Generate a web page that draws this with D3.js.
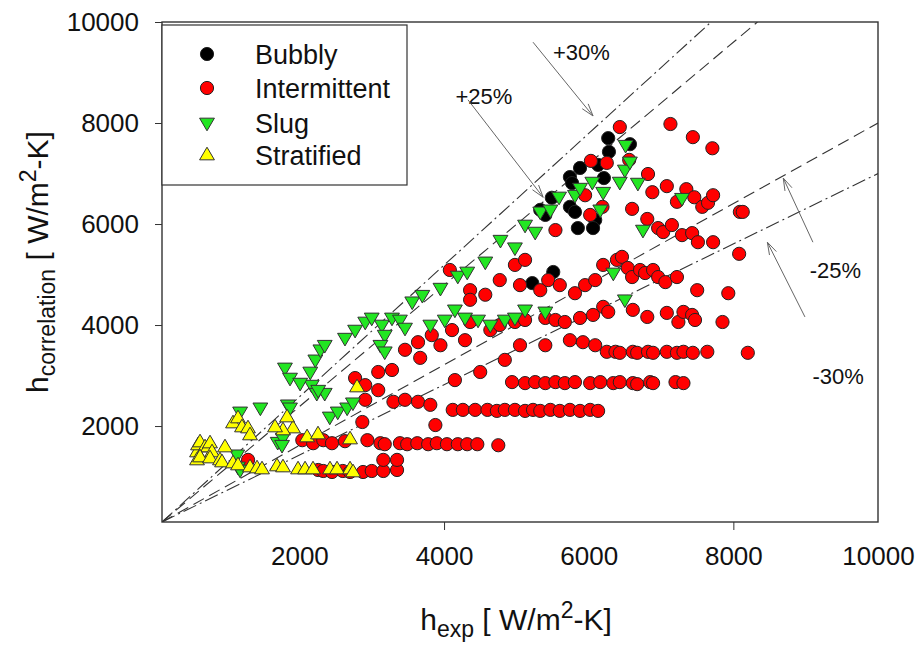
<!DOCTYPE html>
<html>
<head>
<meta charset="utf-8">
<script src="https://cdn.jsdelivr.net/npm/d3@7"></script>
<style>
  body { margin: 0; background: #fff; }
  svg { display: block; }
  text { font-family: Arial, "Liberation Sans", sans-serif; fill: #111; }
</style>
</head>
<body>
<svg id="chart" width="917" height="645"></svg>
<script>
// Heat transfer coefficient: correlation vs. experiment, by flow regime  [h_exp, h_correlation]
const bubbly = [
  [6270,7700],[6280,7430],[6570,7580],[6130,7170],[6210,6910],[5880,7110],[5740,6930],[5770,6810],
  [5490,6520],[5330,6280],[5400,6180],[5740,6340],[5810,6240],[5850,5920],[6090,6080],[6060,5920],
  [5510,5050],[5220,4830]
];
const intermittent = [
  [2260,1130],[2330,1110],[2450,1090],[2600,1110],[2700,1090],[2880,1090],[3000,1110],[3160,1110],[3350,1130],[3160,1330],[3350,1330],[1290,1330],
  [2040,1720],[2190,1660],[2330,1720],[2450,1660],[2630,1700],[2940,1720],[3120,1660],[3180,1640],[3390,1660],[3490,1640],[3630,1660],[3780,1640],[3900,1660],[4040,1640],[4190,1640],[4320,1640],[4460,1640],[4750,1620],[2870,2080],[3880,2020],
  [2910,2520],[3090,2710],[3300,2480],[3460,2520],[3640,2480],[3810,2420],
  [4120,2320],[4260,2320],[4430,2320],[4600,2320],[4730,2300],[4840,2320],[4980,2320],[5120,2300],[5230,2320],[5330,2300],[5470,2320],[5600,2300],[5740,2320],[5880,2300],[6020,2320],[6130,2300],
  [4940,2870],[5120,2850],[5260,2870],[5400,2850],[5540,2870],[5670,2850],[5810,2870],[6020,2850],[6160,2870],[6340,2850],[6430,2870],[6610,2850],[6670,2830],[6850,2870],[6890,2850],[7200,2870],[7310,2850],
  [6250,3470],[6370,3470],[6430,3450],[6610,3470],[6670,3450],[6820,3470],[6890,3450],[7080,3470],[7220,3450],[7310,3470],[7440,3450],[7640,3470],[8200,3450],[5740,3700],[5920,3660],[6090,3600],
  [6200,4360],[6270,4260],[6610,4300],[6810,4160],[7080,4240],[7240,4060],[7310,4260],[7430,4200],[7470,4100],[7850,4060],[7500,4690],[7930,4630],[4360,4060],[4640,3900],[4770,4000],[4980,4060],[5120,4100],[5400,4140],[5540,4100],[5670,4060],[5880,4140],[6060,4200],
  [6200,5190],[6390,5290],[6460,5350],[6540,5130],[6600,4950],[6710,5090],[6780,5030],[6890,5090],[6960,4950],[7060,4850],[7220,4950],[8080,5410],[4360,4690],[4570,4600],[4770,4890],[5050,4790],[5330,4690],[5440,4890],[5600,4790],[5810,4630],[5950,4790],[6090,4890],
  [6810,6100],[6960,5920],[7030,5840],[7150,5980],[7290,5780],[7430,5820],[7510,5640],[7720,5640],[8090,6240],[8130,6240],[5540,5880],[6020,6180],
  [5950,6570],[6190,6340],[6600,6300],[6880,6630],[7080,6750],[7220,6440],[7350,6690],[7460,6530],[7570,6340],[7650,6420],[7720,6570],
  [6430,7920],[7130,7980],[7440,7720],[7710,7500],[6030,7250],[6250,7210],[6560,7270],[6820,6990],
  [2770,2950],[2910,2810],[3090,3070],[3280,3110],[3460,3510],[3640,3660],[3670,3350],[3830,3800],[3950,3600],[4110,3900],[4290,3700],[4150,2910],[4500,3070],[4840,3310],[5050,3600],[5400,3600],[4080,5090],[4360,4500],[4980,5190],[5120,5290]
];
const slug = [
  [1140,1430],[1150,1190],[1180,1130],[1700,1680],[1770,1760],[1760,1620],
  [1180,2280],[1460,2360],[1840,2420],[1870,2360],
  [2420,2180],[2530,2280],[2660,2360],[2740,2460],
  [2170,2810],[2240,2650],[2350,2650],[2260,2710],
  [1800,3150],[1870,2950],[2010,2850],[2150,3070],[2220,3310],[2290,3510],[2350,3600],
  [2630,3740],[2770,3900],[2910,4060],[3000,4140],[3140,4000],[3180,3800],[3280,4140],[3390,4100],[3460,3940],[3120,3600],[3180,3470],
  [3560,4460],[3700,4590],[3950,4730],[4190,4970],[4320,5050],[4570,5250],
  [3810,4000],[4010,4100],[4150,4300],[4290,4140],[4470,4100],[4640,4000],[4840,4100],[4980,4140],[5120,4300],
  [4780,5680],[4980,5530],[5120,5980],[5260,5840],[5330,6240],[5470,6280],[5590,6535],[5810,6570],[5880,6710],
  [6160,6280],[6200,6630],[6430,6830],[6500,7070],[6570,7230],[6510,7560],[6050,6830],[6680,6810],[7290,6510],
  [5400,4260],[6500,4500],[6750,5880],[6340,5030]
];
const stratified = [
  [584,1486],[598,1625],[626,1684],[695,1585],[736,1585],[764,1664],[792,1486],[584,1328],[626,1387],[764,1367],
  [902,1328],[930,1288],[971,1585],[1082,1268],[1151,1229],[1317,1189],[1414,1169],[1483,1149],[1690,1209],[1773,1189],
  [1981,1149],[2078,1149],[2188,1149],[2423,1149],[2520,1149],[2700,1149],[2742,1090],[2700,1743],[2106,1783],[2257,1842],
  [1912,1961],[1773,1922],[1663,1981],[1829,2179],[1082,2060],[1151,2159],[1206,1981],[1289,1961],[1317,1823],[2797,2773]
];

const xTickLabels = [2000, 4000, 6000, 8000, 10000];
const xTickMarks = [4000, 8000];
const yTicks = [2000, 4000, 6000, 8000, 10000];

// Deviation bands drawn through the origin: h_corr = k * h_exp
const bandLines = [
  { k: 1.3, dash: "14,4,2,4" },
  { k: 1.2, dash: "12,6" },
  { k: 0.8, dash: "12,6" },
  { k: 0.7, dash: "14,4,2,4" }
];

const series = [
  { name: "Bubbly",       data: bubbly,       shape: "circle",   fill: "#000000" },
  { name: "Intermittent", data: intermittent, shape: "circle",   fill: "#ff0000" },
  { name: "Slug",         data: slug,         shape: "triDown",  fill: "#22e622" },
  { name: "Stratified",   data: stratified,   shape: "triUp",    fill: "#ffff00" }
];

const svg = d3.select("#chart");
const x = d3.scaleLinear().domain([100, 10000]).range([162, 878]);
const y = d3.scaleLinear().domain([100, 10000]).range([522, 22]);

// Band lines (clipped to the plot frame)
svg.append("clipPath").attr("id", "plotClip")
  .append("rect").attr("x", 162).attr("y", 22).attr("width", 716).attr("height", 500);

const bandG = svg.append("g").attr("clip-path", "url(#plotClip)");
bandLines.forEach(b => {
  const xEnd = Math.min(10000, 10000 / b.k);
  bandG.append("line")
    .attr("x1", x(100)).attr("y1", y(100))
    .attr("x2", x(xEnd)).attr("y2", y(b.k * xEnd))
    .attr("stroke", "#333").attr("stroke-width", 1.1)
    .attr("stroke-dasharray", b.dash);
});

// Markers
const R = 6.6;
function drawMarker(g, shape, fill) {
  if (shape === "circle") {
    g.append("circle").attr("r", R).attr("fill", fill).attr("stroke", "#222").attr("stroke-width", 1);
  } else {
    const s = 7.8;
    const pts = shape === "triUp"
      ? [[0, -s], [s * 0.95, s * 0.62], [-s * 0.95, s * 0.62]]
      : [[0, s], [s * 0.95, -s * 0.62], [-s * 0.95, -s * 0.62]];
    g.append("path").attr("d", d3.line()(pts) + "Z")
      .attr("fill", fill).attr("stroke", "#333").attr("stroke-width", 1);
  }
}

series.forEach(s => {
  const g = svg.append("g");
  s.data.forEach(d => {
    const m = g.append("g").attr("transform", `translate(${x(d[0])},${y(d[1])})`);
    drawMarker(m, s.shape, s.fill);
  });
});

// Plot frame
svg.append("rect").attr("x", 162).attr("y", 22).attr("width", 716).attr("height", 500)
  .attr("fill", "none").attr("stroke", "#333").attr("stroke-width", 1.4);

// Y axis
const yAxis = svg.append("g").attr("transform", "translate(162,0)")
  .call(d3.axisLeft(y).tickValues(yTicks).tickSize(7).tickPadding(16).tickFormat(d3.format("d")));
yAxis.select(".domain").remove();
yAxis.selectAll("line").attr("stroke", "#333");
yAxis.selectAll("text").attr("font-size", 26).attr("fill", "#111")
  .attr("font-family", "Arial, 'Liberation Sans', sans-serif");

// X axis: tick marks and labels
const xMarks = svg.append("g").attr("transform", "translate(0,522)")
  .call(d3.axisBottom(x).tickValues(xTickMarks).tickSize(8).tickFormat(""));
xMarks.select(".domain").remove();
xMarks.selectAll("line").attr("stroke", "#333");
const xLabels = svg.append("g").attr("transform", "translate(0,522)")
  .call(d3.axisBottom(x).tickValues(xTickLabels).tickSize(0).tickPadding(25).tickFormat(d3.format("d")));
xLabels.select(".domain").remove();
xLabels.selectAll("text").attr("font-size", 26).attr("fill", "#111")
  .attr("font-family", "Arial, 'Liberation Sans', sans-serif");

// Axis titles
const xt = svg.append("text").attr("x", 516).attr("y", 630).attr("text-anchor", "middle").attr("font-size", 30);
xt.append("tspan").text("h");
xt.append("tspan").attr("font-size", 23).attr("dy", 7).text("exp");
xt.append("tspan").attr("dy", -7).text(" [ W/m");
xt.append("tspan").attr("font-size", 23).attr("dy", -12).text("2");
xt.append("tspan").attr("dy", 12).text("-K]");

const yt = svg.append("text").attr("transform", "translate(48,262) rotate(-90)")
  .attr("text-anchor", "middle").attr("font-size", 30);
yt.append("tspan").text("h");
yt.append("tspan").attr("font-size", 23).attr("dy", 7).text("correlation");
yt.append("tspan").attr("dy", -7).text(" [ W/m");
yt.append("tspan").attr("font-size", 23).attr("dy", -12).text("2");
yt.append("tspan").attr("dy", 12).text("-K]");

// Band annotations with open arrowheads
const notes = [
  { label: "+30%", at: [5900, 9400], from: [5230, 9600], to: [6060, 8140] },
  { label: "+25%", at: [4550, 8540], from: [4330, 8460], to: [5370, 6530] },
  { label: "-25%", at: [9410, 5090], from: [9100, 5640], to: [8690, 6910] },
  { label: "-30%", at: [9450, 2990], from: [8990, 4160], to: [8470, 5640] }
];
notes.forEach(n => {
  svg.append("text").attr("x", x(n.at[0])).attr("y", y(n.at[1]) + 8)
    .attr("text-anchor", "middle").attr("font-size", 22).text(n.label);
  const x1 = x(n.from[0]), y1 = y(n.from[1]), x2 = x(n.to[0]), y2 = y(n.to[1]);
  svg.append("line").attr("x1", x1).attr("y1", y1).attr("x2", x2).attr("y2", y2)
    .attr("stroke", "#666").attr("stroke-width", 1);
  const ang = Math.atan2(y1 - y2, x1 - x2), L = 13, a = 0.3;
  [ang - a, ang + a].forEach(t => {
    svg.append("line").attr("x1", x2).attr("y1", y2)
      .attr("x2", x2 + L * Math.cos(t)).attr("y2", y2 + L * Math.sin(t))
      .attr("stroke", "#666").attr("stroke-width", 1);
  });
});

// Legend
const lg = svg.append("g");
lg.append("rect").attr("x", 162).attr("y", 25).attr("width", 245).attr("height", 160)
  .attr("fill", "#fff").attr("stroke", "#333").attr("stroke-width", 1.2);
const rowY = [54, 88, 123, 155];
series.forEach((s, i) => {
  const m = lg.append("g").attr("transform", `translate(207,${rowY[i]})`);
  drawMarker(m, s.shape, s.fill);
  lg.append("text").attr("x", 255).attr("y", rowY[i] + 10).attr("font-size", 27).text(s.name);
});
</script>
</body>
</html>
